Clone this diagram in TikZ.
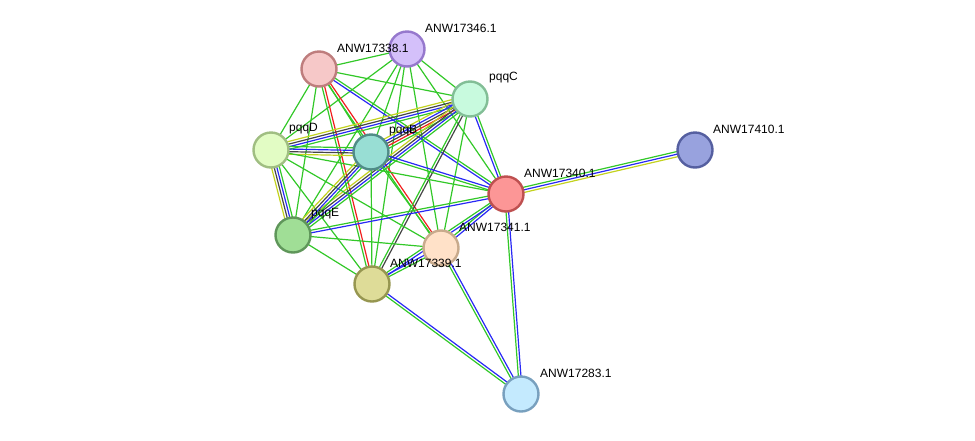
\documentclass[tikz,border=0pt]{standalone}
\usepackage{fontspec}
\setmainfont{Liberation Sans}
\usepackage{tikz}
\usetikzlibrary{calc, backgrounds}
\definecolor{e_green}{RGB}{50,200,40}
\definecolor{e_blue}{RGB}{40,40,245}
\definecolor{e_black}{RGB}{70,70,70}
\definecolor{e_yellow}{RGB}{195,210,30}
\definecolor{e_red}{RGB}{240,30,30}
\tikzset{
  protein/.style={circle, minimum size=35pt, inner sep=0pt, line width=2.4pt},
  prot_label/.style={anchor=west, inner sep=0pt, font=\fontsize{12}{14}\selectfont},
  edge_line/.style={line width=1.2pt}
}
% one string per evidence channel, side by side
\newcommand{\stringedge}[3]{%
  \foreach \c [count=\i] in {#3} {\xdef\ecount{\i}}%
  \foreach \c [count=\i] in {#3} {%
    \pgfmathsetmacro{\off}{(\i-(\ecount+1)/2)*2.6}
    \draw[edge_line, \c] ($(#1)!\off pt!-90:(#2)$) -- ($(#2)!\off pt!90:(#1)$);
  }%
}

\begin{document}
\begin{tikzpicture}[x=1pt, y=-1pt]
  \useasboundingbox (0,0) rectangle (975,440);

  % proteins
  \node[protein, fill={rgb,255:red,212;green,192;blue,250}, draw={rgb,255:red,150;green,120;blue,205}] (n17346) at (407,49) {};
  \node[protein, fill={rgb,255:red,246;green,200;blue,200}, draw={rgb,255:red,190;green,125;blue,125}] (n17338) at (319,69) {};
  \node[protein, fill={rgb,255:red,200;green,250;blue,222}, draw={rgb,255:red,130;green,190;blue,150}] (pqqC) at (470,99) {};
  \node[protein, fill={rgb,255:red,226;green,252;blue,196}, draw={rgb,255:red,160;green,190;blue,130}] (pqqD) at (271,150) {};
  \node[protein, fill={rgb,255:red,152;green,222;blue,212}, draw={rgb,255:red,80;green,140;blue,135}] (pqqB) at (371,152) {};
  \node[protein, fill={rgb,255:red,252;green,150;blue,150}, draw={rgb,255:red,190;green,80;blue,80}] (n17340) at (506,194) {};
  \node[protein, fill={rgb,255:red,152;green,162;blue,222}, draw={rgb,255:red,85;green,95;blue,160}] (n17410) at (695,150) {};
  \node[protein, fill={rgb,255:red,160;green,222;blue,150}, draw={rgb,255:red,95;green,150;blue,90}] (pqqE) at (293,235) {};
  \node[protein, fill={rgb,255:red,255;green,225;blue,200}, draw={rgb,255:red,200;green,170;blue,140}] (n17341) at (441,248) {};
  \node[protein, fill={rgb,255:red,222;green,220;blue,152}, draw={rgb,255:red,150;green,150;blue,80}] (n17339) at (372,284) {};
  \node[protein, fill={rgb,255:red,196;green,234;blue,254}, draw={rgb,255:red,120;green,160;blue,190}] (n17283) at (521,394) {};

  % labels
  \node[prot_label] (l17346) at ($(n17346)+(18,-21)$) {ANW17346.1};
  \node[prot_label] (l17338) at ($(n17338)+(18,-21)$) {ANW17338.1};
  \node[prot_label] (lpqqC) at ($(pqqC)+(19,-21)$) {pqqC};
  \node[prot_label] (lpqqD) at ($(pqqD)+(18,-21)$) {pqqD};
  \node[prot_label] (lpqqB) at ($(pqqB)+(18,-21)$) {pqqB};
  \node[prot_label] (l17340) at ($(n17340)+(18,-21)$) {ANW17340.1};
  \node[prot_label] (l17410) at ($(n17410)+(18,-21)$) {ANW17410.1};
  \node[prot_label] (lpqqE) at ($(pqqE)+(18,-21)$) {pqqE};
  \node[prot_label] (l17341) at ($(n17341)+(18,-21)$) {ANW17341.1};
  \node[prot_label] (l17339) at ($(n17339)+(18,-21)$) {ANW17339.1};
  \node[prot_label] (l17283) at ($(n17283)+(19,-21)$) {ANW17283.1};

  \begin{scope}[on background layer]
    \stringedge{n17346}{n17338}{e_green}
    \stringedge{n17346}{pqqC}{e_green}
    \stringedge{n17346}{pqqD}{e_green}
    \stringedge{n17346}{pqqB}{e_green}
    \stringedge{n17346}{n17340}{e_green}
    \stringedge{n17346}{pqqE}{e_green}
    \stringedge{n17346}{n17339}{e_green}
    \stringedge{n17346}{n17341}{e_green}
    \stringedge{n17338}{pqqC}{e_green}
    \stringedge{n17338}{pqqD}{e_green}
    \stringedge{n17338}{pqqB}{e_green}
    \stringedge{n17338}{n17340}{e_green, e_blue}
    \stringedge{n17338}{pqqE}{e_green}
    \stringedge{n17338}{n17339}{e_red, e_green}
    \stringedge{n17338}{n17341}{e_red, e_green}
    \stringedge{pqqC}{pqqD}{e_green, e_blue, e_black, e_yellow}
    \stringedge{pqqC}{pqqB}{e_green, e_red, e_black, e_blue, e_yellow}
    \stringedge{pqqC}{pqqE}{e_green, e_blue, e_black, e_yellow}
    \stringedge{pqqC}{n17340}{e_green, e_blue}
    \stringedge{pqqC}{n17339}{e_black, e_green}
    \stringedge{pqqC}{n17341}{e_green}
    \stringedge{pqqD}{pqqB}{e_green, e_blue, e_black, e_yellow}
    \stringedge{pqqD}{pqqE}{e_green, e_blue, e_black, e_yellow}
    \stringedge{pqqD}{n17340}{e_green}
    \stringedge{pqqD}{n17339}{e_green}
    \stringedge{pqqD}{n17341}{e_green}
    \stringedge{pqqB}{pqqE}{e_green, e_blue, e_black, e_yellow}
    \stringedge{pqqB}{n17340}{e_blue, e_green}
    \stringedge{pqqB}{n17341}{e_green}
    \stringedge{pqqB}{n17339}{e_green}
    \stringedge{n17340}{n17410}{e_green, e_blue, e_yellow}
    \stringedge{n17340}{pqqE}{e_blue, e_green}
    \stringedge{n17340}{n17341}{e_blue, e_green}
    \stringedge{n17340}{n17339}{e_blue, e_green}
    \stringedge{n17340}{n17283}{e_blue, e_green}
    \stringedge{pqqE}{n17341}{e_green}
    \stringedge{pqqE}{n17339}{e_green}
    \stringedge{n17341}{n17339}{e_green, e_blue}
    \stringedge{n17341}{n17283}{e_blue, e_green}
    \stringedge{n17339}{n17283}{e_blue, e_green}
  \end{scope}
\end{tikzpicture}
\end{document}
